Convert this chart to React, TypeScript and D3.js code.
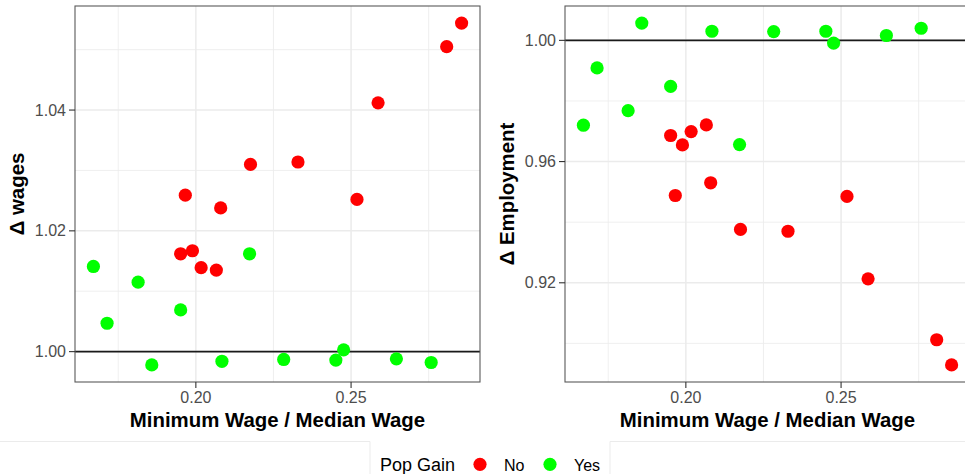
import React from "react";
import * as d3 from "d3";

// Minimum wage bite vs. change in wages and employment, by whether the area gained population
const ratio = [
  0.2856, 0.2808, 0.2587, 0.1966, 0.208, 0.2176, 0.2329, 0.2519, 0.1951, 0.1989, 0.2017, 0.2066,
  0.167, 0.1714, 0.1814, 0.1951, 0.2173, 0.1858, 0.2084, 0.2283, 0.2451, 0.2476, 0.2646, 0.2758,
];
const wages = [
  1.0544, 1.0505, 1.0412, 1.0259, 1.0238, 1.031, 1.0314, 1.0252, 1.0162, 1.0167, 1.0139, 1.0135,
  1.0141, 1.0047, 1.0115, 1.0069, 1.0162, 0.9978, 0.9984, 0.9987, 0.9986, 1.0003, 0.9988, 0.9982,
];
const employment = [
  0.8929, 0.9012, 0.9213, 0.9488, 0.953, 0.9376, 0.937, 0.9485, 0.9686, 0.9655, 0.9699, 0.9721,
  0.972, 0.9909, 0.9768, 0.9848, 0.9656, 1.0057, 1.003, 1.0029, 1.003, 0.9991, 1.0016, 1.004,
];
const popGain = [
  "No", "No", "No", "No", "No", "No", "No", "No", "No", "No", "No", "No",
  "Yes", "Yes", "Yes", "Yes", "Yes", "Yes", "Yes", "Yes", "Yes", "Yes", "Yes", "Yes",
];
const groups = ["No", "Yes"];
const groupColors = ["#FF0000", "#00FF00"];

const xMajor = [0.2, 0.25];
const xMinor = [0.175, 0.225, 0.275];
const wageMajor = [1.0, 1.02, 1.04];
const wageMinor = [1.01, 1.03, 1.05];
const empMajor = [0.92, 0.96, 1.0];
const empMinor = [0.9, 0.94, 0.98];

const FONT = "'Liberation Sans', Arial, Helvetica, sans-serif";
const W = 965;
const H = 474;

const color = d3.scaleOrdinal<string, string>().domain(groups).range(groupColors);

function expanded(vals: number[]): [number, number] {
  const [lo, hi] = d3.extent(vals) as [number, number];
  const pad = (hi - lo) * 0.05;
  return [lo - pad, hi + pad];
}

type PanelProps = {
  offsetX: number;
  yValues: number[];
  yMajor: number[];
  yMinor: number[];
  yTitle: string;
};

function Panel({ offsetX, yValues, yMajor, yMinor, yTitle }: PanelProps) {
  const left = offsetX + 75;
  const right = offsetX + 480;
  const top = 6;
  const bottom = 382;
  const x = d3.scaleLinear().domain(expanded(ratio)).range([left, right]);
  const y = d3.scaleLinear().domain(expanded(yValues)).range([bottom, top]);
  const clipId = `clip-${offsetX}`;
  const fmt = d3.format(".2f");

  return (
    <g>
      <defs>
        <clipPath id={clipId}>
          <rect x={left} y={top} width={right - left} height={bottom - top} />
        </clipPath>
      </defs>
      <rect x={left} y={top} width={right - left} height={bottom - top} fill="#FFFFFF" />
      <g clipPath={`url(#${clipId})`}>
        {xMinor.map((v) => (
          <line key={"xm" + v} x1={x(v)} x2={x(v)} y1={top} y2={bottom} stroke="#EBEBEB" strokeWidth={0.8} />
        ))}
        {yMinor.map((v) => (
          <line key={"ym" + v} x1={left} x2={right} y1={y(v)} y2={y(v)} stroke="#EBEBEB" strokeWidth={0.8} />
        ))}
        {xMajor.map((v) => (
          <line key={"xM" + v} x1={x(v)} x2={x(v)} y1={top} y2={bottom} stroke="#EBEBEB" strokeWidth={1.5} />
        ))}
        {yMajor.map((v) => (
          <line key={"yM" + v} x1={left} x2={right} y1={y(v)} y2={y(v)} stroke="#EBEBEB" strokeWidth={1.5} />
        ))}
        <line x1={left} x2={right} y1={y(1)} y2={y(1)} stroke="#1A1A1A" strokeWidth={1.8} />
        {ratio.map((r, i) => (
          <circle key={i} cx={x(r)} cy={y(yValues[i])} r={6.6} fill={color(popGain[i])} />
        ))}
      </g>
      <rect x={left} y={top} width={right - left} height={bottom - top} fill="none" stroke="#5A5A5A" strokeWidth={1.1} />
      {/* y axis */}
      {yMajor.map((v) => (
        <g key={"yt" + v}>
          <line x1={left - 6} x2={left} y1={y(v)} y2={y(v)} stroke="#333333" strokeWidth={1.1} />
          <text x={left - 9} y={y(v)} dy="0.35em" textAnchor="end" fontFamily={FONT} fontSize={16} fill="#4D4D4D">
            {fmt(v)}
          </text>
        </g>
      ))}
      {/* x axis */}
      {xMajor.map((v) => (
        <g key={"xt" + v}>
          <line x1={x(v)} x2={x(v)} y1={bottom} y2={bottom + 6} stroke="#333333" strokeWidth={1.1} />
          <text x={x(v)} y={403} textAnchor="middle" fontFamily={FONT} fontSize={16} fill="#4D4D4D">
            {fmt(v)}
          </text>
        </g>
      ))}
      <text
        x={(left + right) / 2}
        y={427}
        textAnchor="middle"
        fontFamily={FONT}
        fontSize={20.4}
        fontWeight="bold"
        fill="#000000"
      >
        Minimum Wage / Median Wage
      </text>
      <text
        transform={`translate(${offsetX + 23.5},${(top + bottom) / 2}) rotate(-90)`}
        textAnchor="middle"
        fontFamily={FONT}
        fontSize={20.4}
        fontWeight="bold"
        fill="#000000"
      >
        {yTitle}
      </text>
    </g>
  );
}

export default function App() {
  const legendY = 464.3;
  return (
    <svg
      width={W}
      height={H}
      viewBox={`0 0 ${W} ${H}`}
      style={{ position: "absolute", left: 0, top: 0, display: "block", background: "#FFFFFF" }}
    >
      <rect x={0} y={0} width={W} height={H} fill="#FFFFFF" />
      <Panel offsetX={0} yValues={wages} yMajor={wageMajor} yMinor={wageMinor} yTitle="Δ wages" />
      <Panel offsetX={490} yValues={employment} yMajor={empMajor} yMinor={empMinor} yTitle="Δ Employment" />

      {/* legend frame */}
      <polyline points={`0,441.5 370,441.5 370,474`} fill="none" stroke="#EBEBEB" strokeWidth={1} />
      <polyline points={`610,474 610,441.5 965,441.5`} fill="none" stroke="#EBEBEB" strokeWidth={1} />

      <text x={380} y={471} fontFamily={FONT} fontSize={18} fill="#000000">
        Pop Gain
      </text>
      {groups.map((g, i) => (
        <g key={g}>
          <circle cx={480 + i * 70} cy={legendY} r={6.6} fill={color(g)} />
          <text x={504 + i * 70} y={471} fontFamily={FONT} fontSize={16} fill="#000000">
            {g}
          </text>
        </g>
      ))}
    </svg>
  );
}
